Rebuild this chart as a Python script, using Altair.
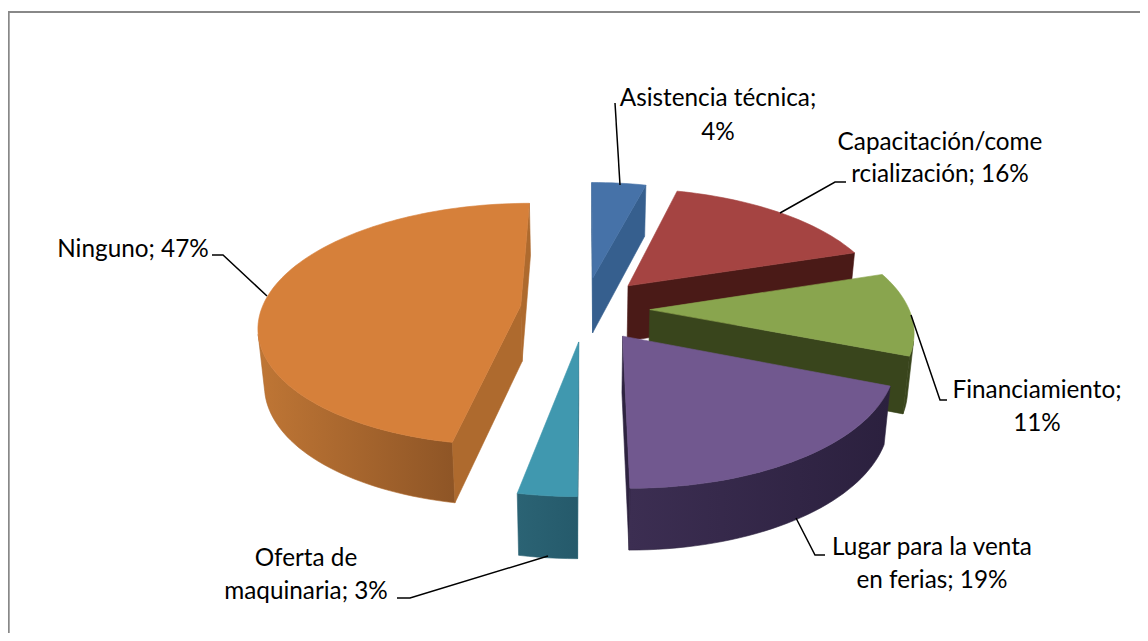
import math
import altair as alt
import pandas as pd

# ---- chart values
categories = ["Asistencia técnica", "Capacitación/comercialización", "Financiamiento",
              "Lugar para la venta en ferias", "Oferta de maquinaria", "Ninguno"]
shares = [4, 16, 11, 19, 3, 47]
label_lines = [["Asistencia técnica;", "4%"], ["Capacitación/come", "rcialización; 16%"],
               ["Financiamiento;", "11%"], ["Lugar para la venta", "en ferias; 19%"],
               ["Oferta de", "maquinaria; 3%"], ["Ninguno; 47%"]]

# ---- styling
top_colors = ["#4672A8", "#A54442", "#89A54E", "#71588F", "#4098AF", "#D6803A"]
side_colors = ["#365F8E", "#4A1A17", "#39451C", "#2E2340", "#2A6172", "#AE6A2E"]
arc_left = ["#365F8E", "#4A1A17", "#39451C", "#3C2E52", "#2B6374", "#BF7635"]
arc_right = ["#365F8E", "#4A1A17", "#39451C", "#2B203E", "#255A6B", "#8E5526"]
paint_order = [5, 0, 1, 2, 4, 3]

# ---- layout of the tilted pie (camera and explosion)
CX, CY, A, B, P, EX, EY, H = 585, 308.6, 259, 119, 0.155, 0.25, 0.27, 56
W, HT = 1132, 625
label_xy = [[(718, 99), (718, 133)], [(940, 143), (940, 175)], [(1037, 391), (1037, 424)],
            [(932, 548), (932, 581)], [(306, 559), (306, 592)], [(133, 250)]]
leaders = [[(615, 103), (620, 185)], [(846, 182), (835, 182), (780, 213)],
           [(911, 315), (940, 400), (947, 400)], [(796, 518), (815, 555), (825, 555)],
           [(548, 556), (410, 598), (397, 598)], [(267, 296), (223, 255), (212, 255)]]

x_scale = alt.Scale(domain=[8, 8 + W], range=[0, W], nice=False, zero=False)
y_scale = alt.Scale(domain=[8, 8 + HT], range=[0, HT], nice=False, zero=False)
X = alt.X("x:Q", scale=x_scale, axis=None)
Y = alt.Y("y:Q", scale=y_scale, axis=None)

total = sum(shares)
edges = [0]
for s in shares:
    edges.append(edges[-1] + s / total * 2 * math.pi)


def proj(i, th, r=1.0, low=False):
    m = (edges[i] + edges[i + 1]) / 2
    px = EX * math.sin(m) + r * math.sin(th)
    py = EY * math.cos(m) + r * math.cos(th)
    s = 1 / (1 + P * py)
    x, y = CX + A * px * s, CY - B * py * s
    if low:
        x = CX + (x - CX) * 0.98
        y += H / (1 + 0.5 * P * py)
    return x, y


def front(p0, p1, p2, p3):
    pts = [p0, p1, p2, p3]
    area = sum(pts[k][0] * pts[(k + 1) % 4][1] - pts[(k + 1) % 4][0] * pts[k][1] for k in range(4))
    return area < 0


def poly(points, fill, stroke=None):
    rows = [{"x": p[0], "y": p[1], "k": n} for n, p in enumerate(points + points[:1])]
    return alt.Chart(pd.DataFrame(rows)).mark_line(
        fill=fill, stroke=stroke or fill, strokeWidth=0.6, interpolate="linear", clip=False
    ).encode(x=X, y=Y, order="k:Q")


def gradient(c0, c1):
    return alt.LinearGradient(gradient="linear", x1=0, x2=1, y1=0, y2=0,
                              stops=[alt.GradientStop(color=c0, offset=0),
                                     alt.GradientStop(color=c1, offset=1)])


layers = []
# frame
layers.append(alt.Chart(pd.DataFrame({"x": [8.7, 8.7, 8 + W], "y": [8 + HT, 12, 12], "k": [0, 1, 2]})).mark_line(
    color="#888888", strokeWidth=2).encode(x=X, y=Y, order="k:Q"))

for i in paint_order:
    t0, t1 = edges[i], edges[i + 1]
    n = max(6, int((t1 - t0) / 0.03))
    ths = [t0 + (t1 - t0) * k / n for k in range(n + 1)]
    arc_top = [proj(i, t) for t in ths]
    arc_low = [proj(i, t, low=True) for t in ths]
    apex, apex_low = proj(i, 0, 0), proj(i, 0, 0, True)
    # radial side walls
    if front(apex, arc_top[0], arc_low[0], apex_low):
        layers.append(poly([apex, arc_top[0], arc_low[0], apex_low], side_colors[i]))
    if front(arc_top[-1], apex, apex_low, arc_low[-1]):
        layers.append(poly([arc_top[-1], apex, apex_low, arc_low[-1]], side_colors[i]))
    # outer curved wall
    vis = [k for k in range(n) if front(arc_top[k], arc_top[k + 1], arc_low[k + 1], arc_low[k])]
    if vis:
        a, b = vis[0], vis[-1] + 1
        pts = arc_top[a:b + 1] + arc_low[a:b + 1][::-1]
        layers.append(poly(pts, gradient(arc_left[i], arc_right[i]), side_colors[i]))
    # top face
    layers.append(poly([apex] + arc_top, top_colors[i]))

# leader lines
for path in leaders:
    rows = [{"x": p[0], "y": p[1], "k": n} for n, p in enumerate(path)]
    layers.append(alt.Chart(pd.DataFrame(rows)).mark_line(color="black", strokeWidth=1.5).encode(x=X, y=Y, order="k:Q"))

# labels
rows = []
for lines, xy in zip(label_lines, label_xy):
    for t, p in zip(lines, xy):
        rows.append({"t": t, "x": p[0], "y": p[1]})
layers.append(alt.Chart(pd.DataFrame(rows)).mark_text(
    font="Lato", fontSize=24.3, color="black", align="center", baseline="middle"
).encode(x=X, y=Y, text="t:N"))

chart = alt.layer(*layers).properties(
    width=W, height=HT, padding=0, autosize=alt.AutoSizeParams(type="none"), background="white"
).configure_view(stroke=None)

chart.save("out.html", embed_options={"renderer": "svg", "actions": False})
